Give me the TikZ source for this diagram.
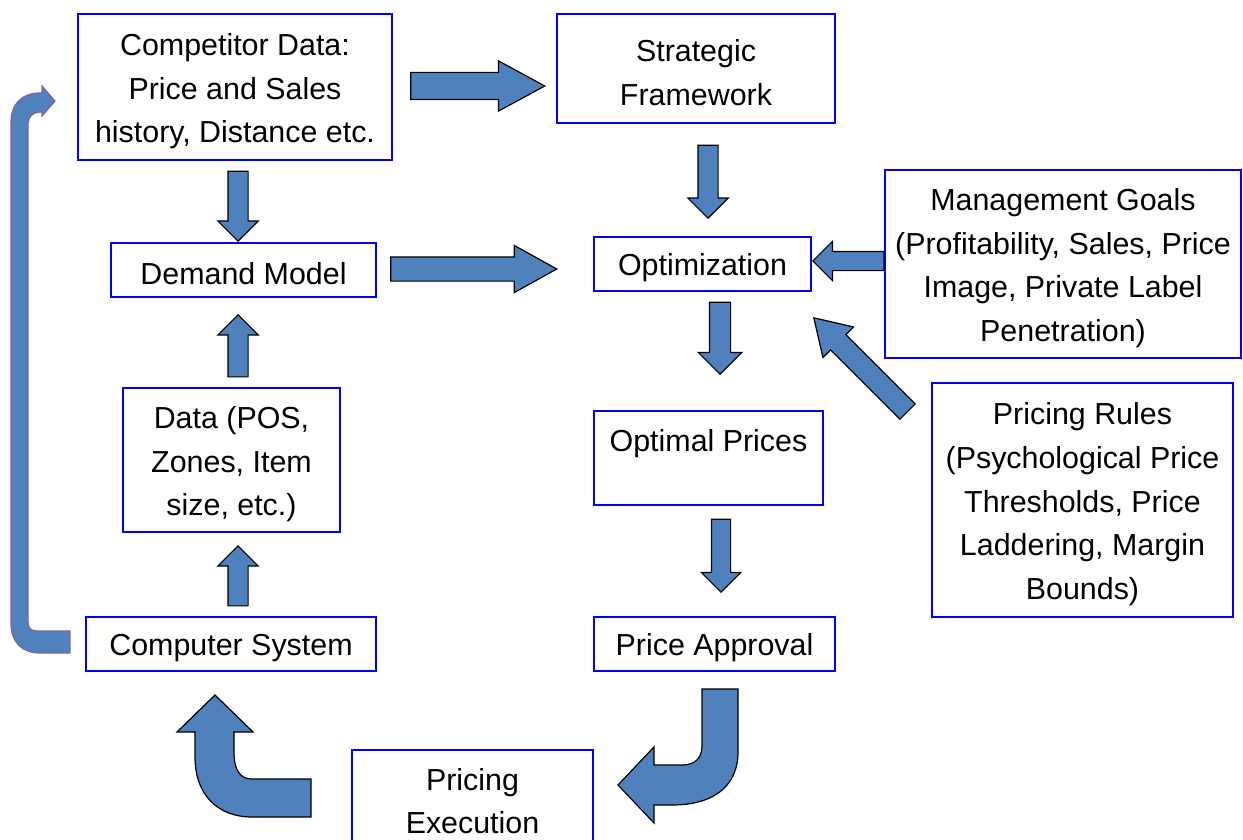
\documentclass[tikz,border=0pt]{standalone}
\usepackage{fontspec}
\setmainfont{Liberation Sans}
\usepackage{tikz}
\usetikzlibrary{arrows,shapes.arrows,positioning}
\definecolor{arrowblue}{HTML}{4F81BD}
\definecolor{loopedge}{HTML}{7F64A0}
\tikzset{
    %Define style for boxes
    stage/.style={
           rectangle,
           draw=blue, line width=0.8pt,
           inner sep=0pt,
           align=center,
           font=\fontsize{15.2}{21.8}\selectfont,
           execute at begin node={\rule{0pt}{15pt}},
           text centered},
    %Define style for block arrows
    bigarrow/.style={
           single arrow,
           draw=black, line width=0.6pt,
           fill=arrowblue,
           inner xsep=0pt, inner ysep=4.75pt,
           minimum width=19.5pt,
           single arrow head extend=5pt,
           anchor=tip},
    %Define style for bent block arrows
    bentarrow/.style={
           draw=black, line width=0.6pt,
           fill=arrowblue},
    % Define style for the feedback loop
    loopline/.style={
           draw=loopedge, line width=0.6pt,
           fill=arrowblue}
}
\begin{document}
\begin{tikzpicture}[x=0.5pt,y=-0.5pt]
\useasboundingbox (0,0) rectangle (1243,840);
\clip (0,0) rectangle (1243,840);
 %nodes
\node[stage, minimum width=157pt, minimum height=73pt] (cd) at (235,87)
    {\strut Competitor Data:\\Price and Sales\\history, Distance etc.};
\node[stage, minimum width=139pt, minimum height=54.5pt] (sf) at (696,68.5)
    {\strut Strategic\\Framework};
\node[stage, minimum width=132.5pt, minimum height=27pt] (dm) at (243.5,270)
    {Demand Model};
\node[stage, minimum width=108.5pt, minimum height=27pt] (opt) at (702.5,264)
    {Optimization};
\node[stage, minimum width=178pt, minimum height=94pt] (mg) at (1063,264)
    {\strut Management Goals\\(Profitability, Sales, Price\\Image, Private Label\\Penetration)};
\node[stage, minimum width=108.5pt, minimum height=72pt] (data) at (231.5,460)
    {\strut Data (POS,\\Zones, Item\\size, etc.)};
\node[stage, minimum width=114.5pt, minimum height=47pt] (op) at (708.5,458)
    {Optimal Prices\\[-4pt]\mbox{}};
\node[stage, minimum width=150.5pt, minimum height=117pt] (pr) at (1082.5,500)
    {\strut Pricing Rules\\(Psychological Price\\Thresholds, Price\\Laddering, Margin\\Bounds)};
\node[stage, minimum width=145pt, minimum height=27pt] (cs) at (231,644)
    {Computer System};
\node[stage, minimum width=120.5pt, minimum height=27pt] (pa) at (714.5,644)
    {Price Approval};
\node[stage, minimum width=120.5pt, minimum height=47pt] (pe) at (472.5,797)
    {\strut Pricing\\Execution};
 %block arrows
\node[bigarrow, minimum height=67pt, minimum width=24.5pt, inner ysep=6.5pt,
      single arrow head extend=5.75pt, single arrow tip angle=57] (a1) at (546,86) {};
\node[bigarrow, minimum height=36.5pt, rotate=-90] (a2) at (708,219) {};
\node[bigarrow, minimum height=35pt, rotate=-90] (a3) at (238,242) {};
\node[bigarrow, minimum height=83pt, minimum width=23pt, inner ysep=5.75pt,
      single arrow head extend=5.75pt, single arrow tip angle=58] (a4) at (558,269) {};
\node[bigarrow, minimum height=35.5pt, minimum width=19pt, inner ysep=4.5pt,
      rotate=180] (a5) at (812,261) {};
\node[bigarrow, minimum height=36pt, minimum width=21pt, inner ysep=5pt,
      single arrow head extend=5.5pt, rotate=-90] (a6) at (720,375) {};
\node[bigarrow, minimum height=66.3pt, minimum width=21pt, inner ysep=5.1pt,
      single arrow head extend=5.4pt, single arrow tip angle=64, rotate=135] (a7) at (813,317) {};
\node[bigarrow, minimum height=31pt, rotate=90] (a8) at (238,314) {};
\node[bigarrow, minimum height=30pt, rotate=90] (a9) at (238,545) {};
\node[bigarrow, minimum height=36.5pt, minimum width=19pt, inner ysep=4.5pt,
      rotate=-90] (a10) at (721,593) {};
 %bent arrows
\draw[bentarrow] (738,689) -- (738,752) .. controls (738,785) and (715,805) .. (672,805)
    -- (654,805) -- (654,823) -- (618,785) -- (654,747) -- (654,765) -- (682,765)
    .. controls (695,765) and (702,758) .. (702,746) -- (702,689) -- cycle;
\draw[bentarrow] (311,779) -- (311,817) -- (252,817) .. controls (218,817) and (195,795) .. (195,757)
    -- (195,732) -- (177,732) -- (215,695) -- (253,732) -- (234,732) -- (234,752)
    .. controls (234,770) and (240,779) .. (252,779) -- cycle;
 %feedback loop
\draw[loopline] (70,653) -- (40,653) .. controls (22,653) and (11,642) .. (11,624)
    -- (11,122) .. controls (11,104) and (22,93) .. (40,93) -- (42,93) -- (42,86)
    -- (55,101) -- (42,116) -- (42,112) -- (40,112) .. controls (33,112) and (28,117) .. (28,124)
    -- (28,622) .. controls (28,628) and (31,631) .. (37,631) -- (70,631) -- cycle;
\end{tikzpicture}
\end{document}
